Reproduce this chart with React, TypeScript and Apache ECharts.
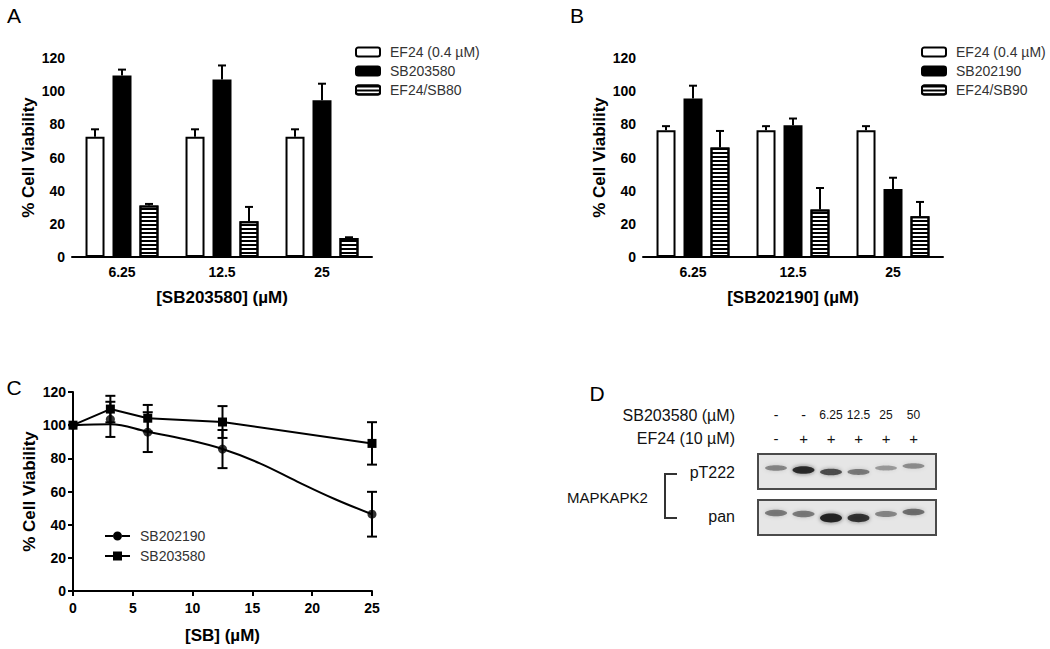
import React, { useEffect, useRef } from 'react';
import * as echarts from 'echarts';

// ---------- data ----------
const barCategories = ['6.25', '12.5', '25'];
const yTicksMax = 120;

const aNames = ['EF24 (0.4 µM)', 'SB203580', 'EF24/SB80'];
const aEF24 = [72.5, 72.5, 72.5];
const aEF24Err = [4.5, 4.5, 4.5];
const aSB = [109.5, 107, 94.5];
const aSBErr = [3.5, 8.5, 10];
const aCombo = [31, 21.5, 11.5];
const aComboErr = [1, 8.7, 0.4];

const bNames = ['EF24 (0.4 µM)', 'SB202190', 'EF24/SB90'];
const bEF24 = [76.5, 76.5, 76.5];
const bEF24Err = [2.4, 2.4, 2.4];
const bSB = [95.6, 79.5, 41];
const bSBErr = [7.7, 4, 6.8];
const bCombo = [66, 28.6, 24.6];
const bComboErr = [10, 13, 8.6];

const cX = [0, 3.125, 6.25, 12.5, 25];
const c190 = [100, 103.5, 95.8, 85.6, 46.3];
const c190Err = [0, 10.6, 12, 11.5, 13.5];
const c580 = [100, 109.7, 104.2, 101.9, 89];
const c580Err = [0, 8, 8, 9.6, 12.8];
const c190FitX = [0, 3.125, 6.25, 9.375, 12.5, 15.625, 18.75, 21.875, 25];
const c190FitY = [100, 100.5, 96, 91.5, 85.6, 77, 66, 55.5, 46.3];

const laneSB = ['-', '-', '6.25', '12.5', '25', '50'];
const laneEF = ['-', '+', '+', '+', '+', '+'];
const bandPT222 = [0.45, 0.9, 0.7, 0.5, 0.35, 0.4];
const bandPT222Dy = [-1, 1, 3, 3, -1, -3];
const bandPan = [0.5, 0.5, 0.95, 0.85, 0.45, 0.55];
const bandPanDy = [-1, 0, 4, 4, 0, -2];

// ---------- styles ----------
const FONT = 'Arial, "Liberation Sans", Helvetica, sans-serif';
const BAR_W = 19;
const BAR_STEP = 27;
const CAP = 4;

const axisCommon = {
  axisLine: { lineStyle: { color: '#000', width: 2 } },
  axisTick: { length: 5, lineStyle: { color: '#000', width: 2 } },
  axisLabel: { color: '#000', fontWeight: 'bold', fontSize: 14, margin: 8, fontFamily: FONT },
  splitLine: { show: false },
  nameTextStyle: { color: '#000', fontWeight: 'bold', fontSize: 17, fontFamily: FONT },
};

const stripeDecal = {
  symbol: 'rect',
  symbolSize: 1,
  dashArrayX: [[1, 0]],
  dashArrayY: [1.5, 2],
  rotation: 0,
  color: '#000',
};

function barSeries(names: string[], vals: number[][], axis: number) {
  const styles = [
    { color: '#fff', borderColor: '#000', borderWidth: 2 },
    { color: '#000', borderColor: '#000', borderWidth: 2 },
    { color: '#fff', borderColor: '#000', borderWidth: 2, decal: stripeDecal },
  ];
  return names.map((n, i) => ({
    type: 'bar',
    name: n,
    xAxisIndex: axis,
    yAxisIndex: axis,
    data: vals[i],
    barWidth: BAR_W,
    barGap: '42%',
    itemStyle: styles[i],
    z: 2,
  }));
}

function barErrSeries(vals: number[][], errs: number[][], axis: number) {
  return vals.map((v, k) => ({
    type: 'custom',
    xAxisIndex: axis,
    yAxisIndex: axis,
    z: 5,
    data: v.map((val, i) => [i, val, errs[k][i]]),
    renderItem: (params: any, api: any) => {
      const cat = api.value(0);
      const val = api.value(1);
      const e = api.value(2);
      const base = api.coord([cat, val]);
      const top = api.coord([cat, val + e]);
      const x = base[0] + (k - 1) * BAR_STEP;
      const st = { stroke: '#000', lineWidth: 2 };
      return {
        type: 'group',
        children: [
          { type: 'line', shape: { x1: x, y1: base[1], x2: x, y2: top[1] }, style: st },
          { type: 'line', shape: { x1: x - CAP, y1: top[1], x2: x + CAP, y2: top[1] }, style: st },
        ],
      };
    },
  }));
}

function lineErrSeries(xs: number[], vals: number[], errs: number[]) {
  return {
    type: 'custom',
    xAxisIndex: 2,
    yAxisIndex: 2,
    z: 4,
    clip: false,
    data: xs.map((x, i) => [x, vals[i] - errs[i], vals[i] + errs[i]]),
    renderItem: (params: any, api: any) => {
      const x = api.value(0);
      const lo = api.coord([x, api.value(1)]);
      const hi = api.coord([x, api.value(2)]);
      if (Math.abs(lo[1] - hi[1]) < 0.5) return { type: 'group', children: [] };
      const st = { stroke: '#000', lineWidth: 2 };
      const c = 5;
      return {
        type: 'group',
        children: [
          { type: 'line', shape: { x1: lo[0], y1: lo[1], x2: hi[0], y2: hi[1] }, style: st },
          { type: 'line', shape: { x1: lo[0] - c, y1: lo[1], x2: lo[0] + c, y2: lo[1] }, style: st },
          { type: 'line', shape: { x1: hi[0] - c, y1: hi[1], x2: hi[0] + c, y2: hi[1] }, style: st },
        ],
      };
    },
  };
}

const circleIcon =
  'path://M0,4 L8,4 L8,6 L0,6 Z M17,4 L25,4 L25,6 L17,6 Z M8,5 A4.5,4.5 0 1,1 17,5 A4.5,4.5 0 1,1 8,5 Z';
const squareIcon =
  'path://M0,4 L8,4 L8,6 L0,6 Z M17,4 L25,4 L25,6 L17,6 Z M8,0.5 L17,0.5 L17,9.5 L8,9.5 Z';

function txt(text: string, x: number, y: number, size: number, align = 'left', weight = 'normal', fill = '#111') {
  return {
    type: 'text',
    x,
    y,
    silent: true,
    style: {
      text,
      fill,
      fontSize: size,
      fontFamily: FONT,
      fontWeight: weight,
      align,
      textAlign: align,
      verticalAlign: 'middle',
      textVerticalAlign: 'middle',
    },
  };
}

function blotGraphics() {
  const els: any[] = [];
  const laneX0 = 776;
  const laneStep = 27.5;
  els.push(txt('SB203580 (µM)', 735, 415, 16, 'right'));
  els.push(txt('EF24 (10 µM)', 735, 438, 16, 'right'));
  els.push(txt('pT222', 735, 472, 16, 'right'));
  els.push(txt('pan', 735, 516, 16, 'right'));
  els.push(txt('MAPKAPK2', 567, 497, 15, 'left'));
  els.push({
    type: 'polyline',
    shape: { points: [[677, 474], [665, 474], [665, 518], [677, 518]] },
    style: { stroke: '#333', lineWidth: 2, fill: 'none' },
  });
  laneSB.forEach((l, i) => {
    els.push(txt(l, laneX0 + i * laneStep, 415, l.length > 1 ? 12 : 14, 'center'));
  });
  laneEF.forEach((l, i) => {
    els.push(txt(l, laneX0 + i * laneStep, 438, 15, 'center'));
  });
  [454, 500].forEach((y) => {
    els.push({
      type: 'rect',
      shape: { x: 758, y, width: 178, height: 35 },
      style: { fill: '#e6e6e6', stroke: '#4a4a4a', lineWidth: 2 },
    });
  });
  bandPT222.forEach((a, i) => {
    els.push({
      type: 'ellipse',
      shape: { cx: laneX0 + i * laneStep, cy: 469 + bandPT222Dy[i], rx: 11, ry: 1.8 + a * 2.2 },
      style: { fill: `rgba(30,30,30,${a})`, shadowBlur: 4, shadowColor: `rgba(30,30,30,${a * 0.7})` },
    });
  });
  bandPan.forEach((a, i) => {
    els.push({
      type: 'ellipse',
      shape: { cx: laneX0 + i * laneStep, cy: 514 + bandPanDy[i], rx: 11, ry: 1.8 + a * 2.8 },
      style: { fill: `rgba(30,30,30,${a})`, shadowBlur: 4, shadowColor: `rgba(30,30,30,${a * 0.7})` },
    });
  });
  return els;
}

export default function App() {
  const ref = useRef<HTMLDivElement>(null);
  useEffect(() => {
    if (!ref.current) return;
    const chart = echarts.init(ref.current, null, { renderer: 'svg' });
    const legendText = { color: '#333', fontSize: 14, fontFamily: FONT, padding: [0, 0, 0, 5] };
    const option: any = {
      animation: false,
      backgroundColor: '#fff',
      textStyle: { fontFamily: FONT },
      grid: [
        { left: 72, top: 58, width: 300, height: 199 },
        { left: 643, top: 58, width: 300, height: 199 },
        { left: 73, top: 392, width: 299, height: 199 },
      ],
      xAxis: [
        {
          ...axisCommon,
          type: 'category',
          gridIndex: 0,
          data: barCategories,
          axisTick: { ...axisCommon.axisTick, alignWithLabel: true },
          name: '[SB203580] (µM)',
          nameLocation: 'middle',
          nameGap: 32,
        },
        {
          ...axisCommon,
          type: 'category',
          gridIndex: 1,
          data: barCategories,
          axisTick: { ...axisCommon.axisTick, alignWithLabel: true },
          name: '[SB202190] (µM)',
          nameLocation: 'middle',
          nameGap: 32,
        },
        {
          ...axisCommon,
          type: 'value',
          gridIndex: 2,
          min: 0,
          max: 25,
          interval: 5,
          axisLabel: { ...axisCommon.axisLabel, margin: 10 },
          name: '[SB] (µM)',
          nameLocation: 'middle',
          nameGap: 36,
        },
      ],
      yAxis: [0, 1, 2].map((g) => ({
        ...axisCommon,
        type: 'value',
        gridIndex: g,
        min: 0,
        max: yTicksMax,
        interval: 20,
        axisLabel: { ...axisCommon.axisLabel, margin: 7 },
        name: '% Cell Viability',
        nameLocation: 'middle',
        nameGap: 35,
      })),
      legend: [
        {
          left: 355,
          top: 45,
          padding: 0,
          orient: 'vertical',
          itemWidth: 24,
          itemHeight: 9,
          itemGap: 5,
          icon: 'roundRect',
          data: aNames,
          textStyle: legendText,
          selectedMode: false,
        },
        {
          left: 921,
          top: 45,
          padding: 0,
          orient: 'vertical',
          itemWidth: 24,
          itemHeight: 9,
          itemGap: 5,
          icon: 'roundRect',
          data: bNames,
          textStyle: legendText,
          selectedMode: false,
        },
        {
          left: 105,
          top: 529,
          padding: 0,
          orient: 'vertical',
          itemWidth: 25,
          itemHeight: 9,
          itemGap: 6,
          data: [
            { name: 'SB202190 ', icon: circleIcon },
            { name: 'SB203580 ', icon: squareIcon },
          ],
          formatter: (n: string) => n.trim(),
          textStyle: { ...legendText, padding: [0, 0, 0, 5] },
          selectedMode: false,
        },
      ],
      series: [
        ...barSeries(aNames, [aEF24, aSB, aCombo], 0),
        ...barErrSeries([aEF24, aSB, aCombo], [aEF24Err, aSBErr, aComboErr], 0),
        ...barSeries(bNames, [bEF24, bSB, bCombo], 1),
        ...barErrSeries([bEF24, bSB, bCombo], [bEF24Err, bSBErr, bComboErr], 1),
        lineErrSeries(cX, c190, c190Err),
        lineErrSeries(cX, c580, c580Err),
        {
          type: 'line',
          name: 'SB202190 ',
          xAxisIndex: 2,
          yAxisIndex: 2,
          data: c190FitX.map((x, i) => [x, c190FitY[i]]),
          smooth: 0.4,
          showSymbol: false,
          color: '#000',
          lineStyle: { color: '#000', width: 2 },
          clip: false,
          z: 3,
        },
        {
          type: 'scatter',
          name: 'SB202190 ',
          xAxisIndex: 2,
          yAxisIndex: 2,
          data: cX.map((x, i) => [x, c190[i]]),
          symbol: 'circle',
          symbolSize: 9,
          color: '#000',
          itemStyle: { color: '#000' },
          clip: false,
          z: 6,
        },
        {
          type: 'line',
          name: 'SB203580 ',
          xAxisIndex: 2,
          yAxisIndex: 2,
          data: cX.map((x, i) => [x, c580[i]]),
          symbol: 'rect',
          symbolSize: 9,
          showAllSymbol: true,
          color: '#000',
          itemStyle: { color: '#000' },
          lineStyle: { color: '#000', width: 2 },
          clip: false,
          z: 6,
        },
      ],
      graphic: [
        txt('A', 14, 15, 21, 'center', 'normal', '#000'),
        txt('B', 577, 15, 21, 'center', 'normal', '#000'),
        txt('C', 14, 387, 21, 'center', 'normal', '#000'),
        txt('D', 597, 393, 21, 'center', 'normal', '#000'),
        ...blotGraphics(),
      ],
    };
    chart.setOption(option);
    return () => chart.dispose();
  }, []);
  return (
    <div
      ref={ref}
      style={{ position: 'absolute', left: 0, top: 0, width: 1050, height: 649, background: '#fff' }}
    />
  );
}
